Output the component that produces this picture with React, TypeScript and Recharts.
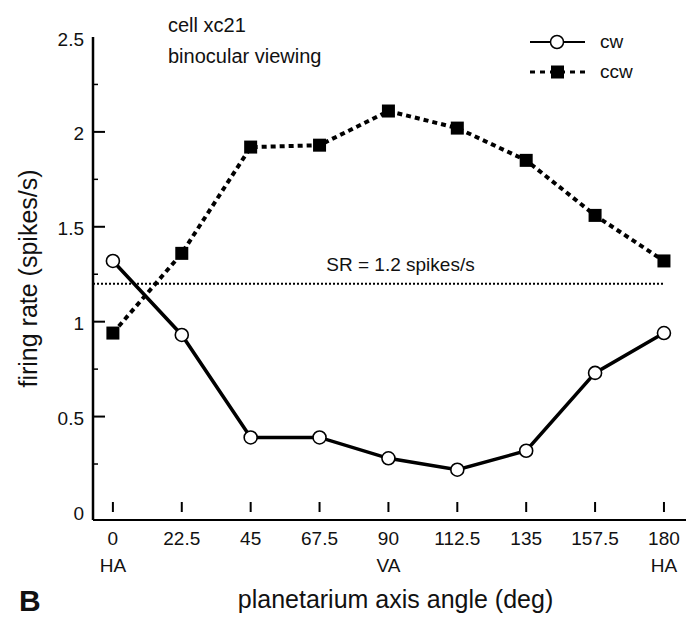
import React from "react";
import {
  Label,
  Legend,
  Line,
  LineChart,
  ReferenceLine,
  XAxis,
  YAxis,
} from "recharts";

// planetarium axis angle (deg)
const angles = [0, 22.5, 45, 67.5, 90, 112.5, 135, 157.5, 180];
const angleNames = ["HA", "", "", "", "VA", "", "", "", "HA"];
// firing rate (spikes/s)
const cw = [1.32, 0.93, 0.39, 0.39, 0.28, 0.22, 0.32, 0.73, 0.94];
const ccw = [0.94, 1.36, 1.92, 1.93, 2.11, 2.02, 1.85, 1.56, 1.32];
const yTicks = [0, 0.25, 0.5, 0.75, 1, 1.25, 1.5, 1.75, 2, 2.25, 2.5];
const spontaneous = 1.2;

const data = angles.map((a, i) => ({ angle: a, cw: cw[i], ccw: ccw[i] }));

const FONT = '"Liberation Sans", Arial, Helvetica, sans-serif';

function YTick(props: any) {
  const { x, y, payload } = props;
  const v = payload.value as number;
  const major = Math.abs(v * 2 - Math.round(v * 2)) < 1e-6;
  const showLine = v > 0 && v < 2.5;
  return (
    <g>
      {showLine && (
        <line
          x1={x}
          x2={x + (major ? 12 : 5)}
          y1={y}
          y2={y}
          stroke="#000"
          strokeWidth={major ? 2 : 1.5}
        />
      )}
      {major && (
        <text
          x={x - 9}
          y={y + 2}
          textAnchor="end"
          dominantBaseline="central"
          fontSize={19}
          fontFamily={FONT}
          fill="#111"
        >
          {String(v)}
        </text>
      )}
    </g>
  );
}

function XTick(props: any) {
  const { x, y, payload } = props;
  const name = angleNames[angles.indexOf(payload.value)] ?? "";
  return (
    <g>
      <line x1={x} x2={x} y1={y - 18} y2={y - 8} stroke="#000" strokeWidth={2} />
      <text
        x={x}
        y={y + 18}
        textAnchor="middle"
        dominantBaseline="central"
        fontSize={19}
        fontFamily={FONT}
        fill="#111"
      >
        {String(payload.value)}
      </text>
      {name && (
        <text
          x={x}
          y={y + 45}
          textAnchor="middle"
          dominantBaseline="central"
          fontSize={19}
          fontFamily={FONT}
          fill="#111"
        >
          {name}
        </text>
      )}
    </g>
  );
}

function CircleDot(props: any) {
  const { cx, cy, index } = props;
  return (
    <circle key={`c${index}`} cx={cx} cy={cy} r={6.5} fill="#fff" stroke="#000" strokeWidth={1.6} />
  );
}

function SquareDot(props: any) {
  const { cx, cy, index } = props;
  return <rect key={`s${index}`} x={cx - 6.5} y={cy - 6.5} width={13} height={13} fill="#000" />;
}

function LegendBox() {
  const row = { display: "flex", alignItems: "center", height: 30 } as const;
  return (
    <div style={{ fontFamily: FONT, fontSize: 19, color: "#111" }}>
      <div style={row}>
        <svg width={70} height={20}>
          <line x1={0} x2={55} y1={10} y2={10} stroke="#000" strokeWidth={2} />
          <circle cx={27} cy={10} r={6.5} fill="#fff" stroke="#000" strokeWidth={1.5} />
        </svg>
        <span>cw</span>
      </div>
      <div style={row}>
        <svg width={70} height={20}>
          <line x1={0} x2={55} y1={10} y2={10} stroke="#000" strokeWidth={3} strokeDasharray="5 5" />
          <rect x={21} y={3.5} width={13} height={13} fill="#000" />
        </svg>
        <span>ccw</span>
      </div>
    </div>
  );
}

export default function App() {
  return (
    <div
      style={{
        position: "absolute",
        left: 0,
        top: 0,
        width: 686,
        height: 620,
        overflow: "hidden",
        background: "#fff",
        fontFamily: FONT,
      }}
    >
      <LineChart
        width={686}
        height={620}
        data={data}
        margin={{ top: 37, right: 0, left: 0, bottom: 0 }}
      >
        <XAxis
          dataKey="angle"
          type="number"
          domain={[-6.5, 187.2]}
          ticks={angles}
          interval={0}
          allowDataOverflow
          height={100}
          tickSize={0}
          tickMargin={0}
          tickLine={false}
          axisLine={{ stroke: "#000", strokeWidth: 2 }}
          tick={<XTick />}
        >
          <Label
            value="planetarium axis angle (deg)"
            position="insideBottom"
            offset={12}
            dx={6}
            fontSize={25}
            fill="#111"
            fontFamily={FONT}
          />
        </XAxis>
        <YAxis
          type="number"
          domain={[-0.045, 2.5]}
          ticks={yTicks}
          interval={0}
          allowDataOverflow
          width={93}
          tickSize={0}
          tickMargin={0}
          tickLine={false}
          axisLine={{ stroke: "#000", strokeWidth: 2.5 }}
          tick={<YTick />}
        >
          <Label
            content={(p: any) => {
              const vb = p.viewBox || { x: 0, y: 37, width: 93, height: 483 };
              const cx = 28;
              const cy = vb.y + vb.height / 2;
              return (
                <text
                  x={cx}
                  y={cy}
                  transform={`rotate(-90 ${cx} ${cy})`}
                  textAnchor="middle"
                  dominantBaseline="central"
                  fontSize={25}
                  fontFamily={FONT}
                  fill="#111"
                >
                  firing rate (spikes/s)
                </text>
              );
            }}
          />
        </YAxis>
        <ReferenceLine
          segment={[
            { x: -6.5, y: spontaneous },
            { x: 180, y: spontaneous },
          ]}
          stroke="#000"
          strokeWidth={2}
          strokeDasharray="2 2"
          ifOverflow="visible"
        >
          <Label
            value="SR = 1.2 spikes/s"
            position="top"
            offset={13}
            dx={22}
            fontSize={19}
            fill="#111"
            fontFamily={FONT}
          />
        </ReferenceLine>
        <Legend
          verticalAlign="middle"
          align="center"
          layout="horizontal"
          wrapperStyle={{ position: "absolute", top: 27, left: 530, width: 150 }}
          content={() => <LegendBox />}
        />
        <Line
          dataKey="ccw"
          name="ccw"
          stroke="#000"
          strokeWidth={4}
          strokeDasharray="5 4"
          dot={SquareDot}
          activeDot={false}
          isAnimationActive={false}
        />
        <Line
          dataKey="cw"
          name="cw"
          stroke="#000"
          strokeWidth={3.5}
          dot={CircleDot}
          activeDot={false}
          isAnimationActive={false}
        />
      </LineChart>
      <div
        style={{
          position: "absolute",
          left: 168,
          top: 10,
          fontSize: 20,
          lineHeight: "31px",
          color: "#111",
        }}
      >
        <div>cell xc21</div>
        <div>binocular viewing</div>
      </div>
      <div
        style={{
          position: "absolute",
          left: 19,
          top: 586,
          fontSize: 30,
          lineHeight: "30px",
          fontWeight: "bold",
          color: "#111",
        }}
      >
        B
      </div>
    </div>
  );
}
